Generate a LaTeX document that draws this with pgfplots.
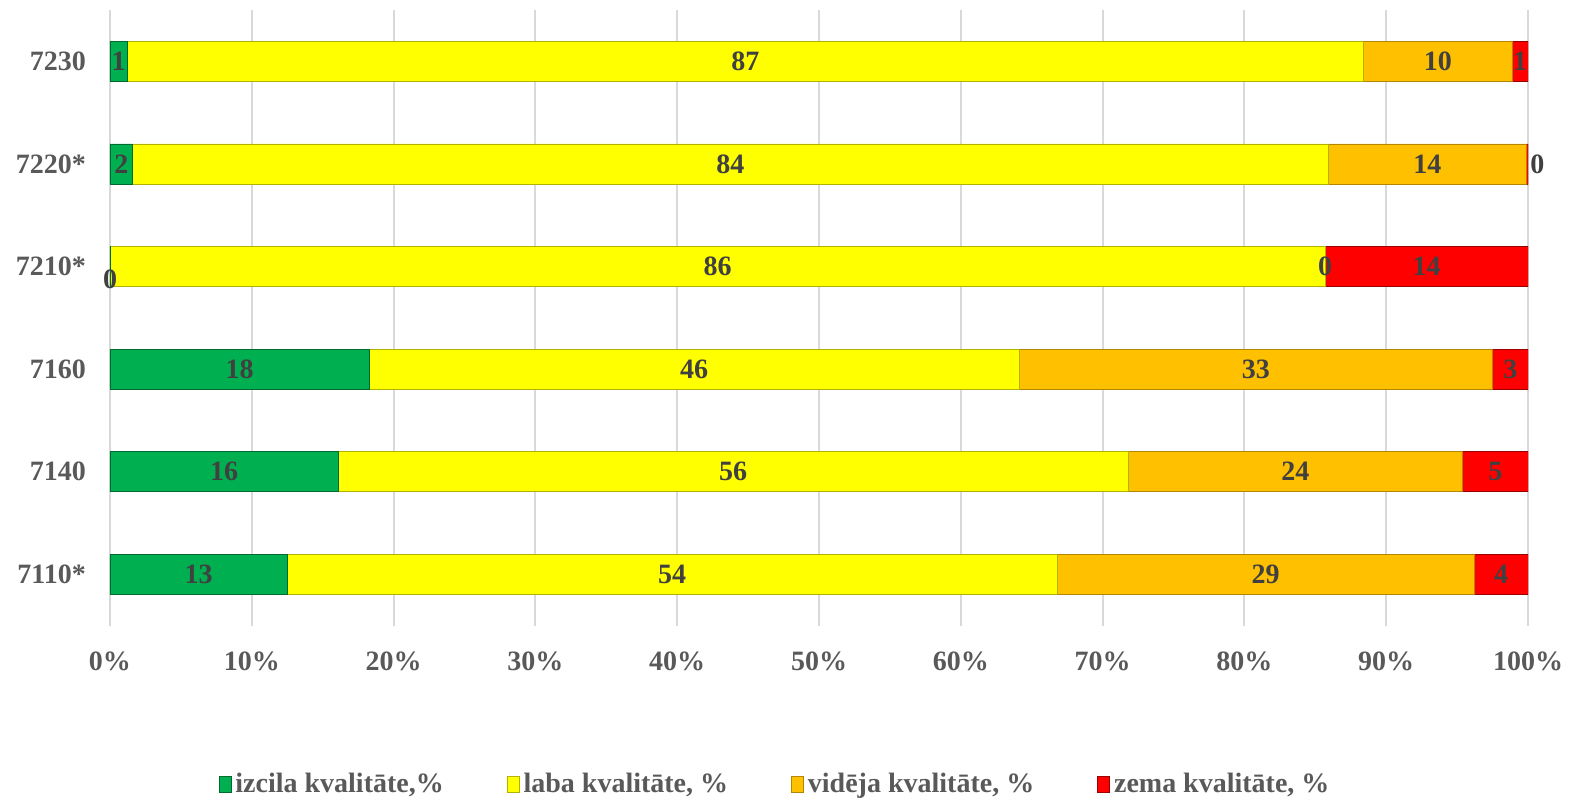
\documentclass[border=0pt]{standalone}
\usepackage{pgfplots}
\pgfplotsset{compat=1.18}
\usepackage{pgfplotstable}
\usepackage{fontspec}
\setmainfont{Liberation Serif}
\definecolor{cgreen}{HTML}{00B050}
\definecolor{cyellow}{HTML}{FFFF00}
\definecolor{corange}{HTML}{FFC000}
\definecolor{cred}{HTML}{FF0000}
\definecolor{labc}{HTML}{404040}
\definecolor{tickc}{HTML}{595959}
\definecolor{gridc}{HTML}{D9D9D9}

\pgfplotstableread{
y x lab dx dy
0 12.5 13 0 0
1 16.1 16 0 0
2 18.3 18 0 0
3 0.01 0 0 -6.5
4 1.6 2 0 0
5 1.2 1 0 0
}\tgreen
\pgfplotstableread{
y x lab dx dy
0 54.3 54 0 0
1 55.7 56 0 0
2 45.8 46 0 0
3 85.68 86 0 0
4 84.3 84 0 0
5 87.2 87 0 0
}\tyellow
\pgfplotstableread{
y x lab dx dy
0 29.4 29 0 0
1 23.6 24 0 0
2 33.4 33 0 0
3 0.01 0 0 0
4 14.0 14 0 0
5 10.5 10 0 0
}\torange
\pgfplotstableread{
y x lab dx dy
0 3.8 4 0 0
1 4.6 5 0 0
2 2.5 3 0 0
3 14.3 14 0 0
4 0.1 0 5 0
5 1.1 1 0 0
}\tred

\begin{document}
\begin{tikzpicture}
\useasboundingbox (-55pt,-91.5pt) rectangle (736.5pt,312.8pt);
\begin{axis}[
  at={(0,0)}, anchor=south west,
  scale only axis,
  width=709pt, height=307.8pt,
  xbar stacked,
  bar width=20pt,
  xmin=0, xmax=100,
  ymin=-0.5, ymax=5.5,
  xtick={0,10,...,100},
  xticklabels={0\%,10\%,20\%,30\%,40\%,50\%,60\%,70\%,80\%,90\%,100\%},
  ytick={0,1,2,3,4,5},
  yticklabels={7110*,7140,7160,7210*,7220*,7230},
  major tick length=0pt,
  axis line style={draw=none},
  xmajorgrids,
  grid style={gridc, line width=1pt},
  tick label style={font=\fontsize{14}{16}\selectfont\bfseries, text=tickc},
  xticklabel style={yshift=-9.5pt},
  yticklabel style={xshift=-8.5pt},
  point meta=explicit symbolic,
  nodes near coords,
  visualization depends on=\thisrow{dx} \as \ldx,
  visualization depends on=\thisrow{dy} \as \ldy,
  every node near coord/.append style={font=\fontsize{14}{16}\selectfont\bfseries, text=labc, anchor=center, xshift=\ldx pt, yshift=\ldy pt},
  legend style={at={(0.4697,-0.258)}, anchor=center, draw=none, legend columns=4,
    font=\fontsize{14}{16}\selectfont\bfseries, text=tickc,
    /tikz/every even column/.append style={column sep=29.5pt}},
  legend image code/.code={\draw[#1] (0pt,-4pt) rectangle (6pt,4pt);},
]
\addplot[fill=cgreen, draw=cgreen!60!black] table[x=x,y=y,meta=lab]{\tgreen};
\addplot[fill=cyellow, draw=cyellow!70!black] table[x=x,y=y,meta=lab]{\tyellow};
\addplot[fill=corange, draw=corange!70!black] table[x=x,y=y,meta=lab]{\torange};
\addplot[fill=cred, draw=cred!60!black] table[x=x,y=y,meta=lab]{\tred};
\legend{{izcila kvalitāte,\%}, {laba kvalitāte, \%}, {vidēja kvalitāte, \%}, {zema kvalitāte, \%}}
\end{axis}
\end{tikzpicture}
\end{document}
